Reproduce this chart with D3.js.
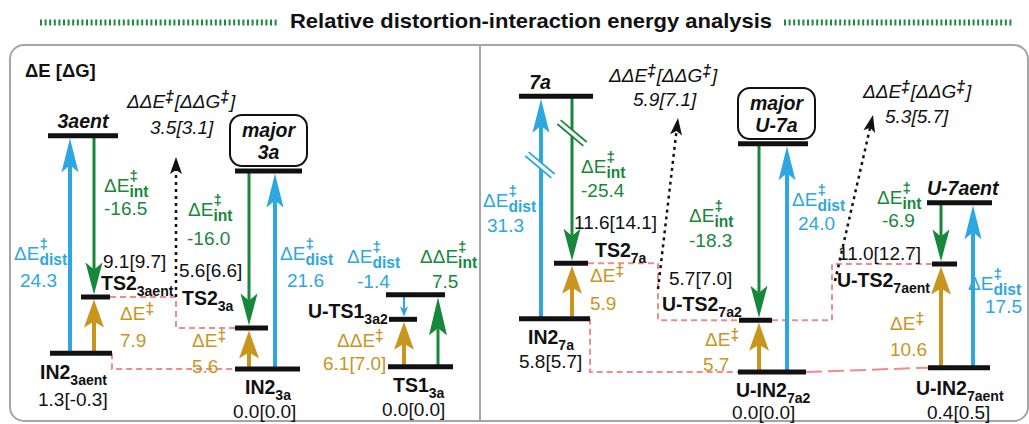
<!DOCTYPE html>
<html>
<head>
<meta charset="utf-8">
<script src="https://cdn.jsdelivr.net/npm/d3@7"></script>
<style>
  body { margin: 0; background: #fff; }
  svg { display: block; font-family: 'Liberation Sans', Arial, Helvetica, sans-serif; }
</style>
</head>
<body>
<svg id="chart" width="1029" height="424"></svg>
<script>
// ---------- data ----------
const title = 'Relative distortion-interaction energy analysis';
const axisNote = 'ΔE [ΔG]';

// energy levels; heights are the schematic heights of the drawing (kcal/mol-like units)
const levelIds = ['IN2_3aent', 'TS2_3aent', '3aent', 'IN2_3a', 'TS2_3a', '3a', 'TS1_3a', 'UTS1_3a2', 'TS1_ref',
  'IN2_7a', 'TS2_7a', '7a', 'UIN2_7a2', 'UTS2_7a2', 'U7a', 'UTS2_7aent', 'U7aent', 'UIN2_7aent'];
const levelLabels = ['IN2_{3aent}', 'TS2_{3aent}', '3aent', 'IN2_{3a}', 'TS2_{3a}', '3a', 'TS1_{3a}', 'U-TS1_{3a2}', '',
  'IN2_{7a}', 'TS2_{7a}', '7a', 'U-IN2_{7a2}', 'U-TS2_{7a2}', 'U-7a', 'U-TS2_{7aent}', 'U-7aent', 'U-IN2_{7aent}'];
const levelEnergies = ['1.3[-0.3]', '9.1[9.7]', '', '0.0[0.0]', '5.6[6.6]', '', '0.0[0.0]', '', '',
  '5.8[5.7]', '11.6[14.1]', '', '0.0[0.0]', '5.7[7.0]', '', '11.0[12.7]', '', '0.4[0.5]'];
const levelHeights = [2.2, 10.0, 32.4, 0, 5.7, 27.5, 0.3, 6.9, 10.3,
  7.4, 15.1, 38.3, 0, 7.2, 31.7, 15.0, 23.5, 0.6];
const levelPanel = [0, 0, 0, 0, 0, 0, 0, 0, 0, 1, 1, 1, 1, 1, 1, 1, 1, 1];
const majorLevels = ['3a', 'U7a'];

// distortion / interaction / barrier arrows
const arrowFrom = ['IN2_3aent', '3aent', 'IN2_3aent', 'IN2_3a', '3a', 'IN2_3a', 'TS1_ref', 'TS1_3a', 'TS1_3a',
  'IN2_7a', '7a', 'IN2_7a', 'UIN2_7a2', 'U7a', 'UIN2_7a2', 'UIN2_7aent', 'U7aent', 'UIN2_7aent'];
const arrowTo = ['3aent', 'TS2_3aent', 'TS2_3aent', '3a', 'TS2_3a', 'TS2_3a', 'UTS1_3a2', 'UTS1_3a2', 'TS1_ref',
  '7a', 'TS2_7a', 'TS2_7a', 'U7a', 'UTS2_7a2', 'UTS2_7a2', 'U7aent', 'UTS2_7aent', 'UTS2_7aent'];
const arrowKind = ['dist', 'int', 'bar', 'dist', 'int', 'bar', 'dist', 'bar', 'int',
  'dist', 'int', 'bar', 'dist', 'int', 'bar', 'dist', 'int', 'bar'];
const arrowNames = ['ΔE{‡|dist}', 'ΔE{‡|int}', 'ΔE^{‡}', 'ΔE{‡|dist}', 'ΔE{‡|int}', 'ΔE^{‡}', 'ΔE{‡|dist}', 'ΔΔE^{‡}', 'ΔΔE{‡|int}',
  'ΔE{‡|dist}', 'ΔE{‡|int}', 'ΔE^{‡}', 'ΔE{‡|dist}', 'ΔE{‡|int}', 'ΔE^{‡}', 'ΔE{‡|dist}', 'ΔE{‡|int}', 'ΔE^{‡}'];
const arrowValues = ['24.3', '-16.5', '7.9', '21.6', '-16.0', '5.6', '-1.4', '6.1[7.0]', '7.5',
  '31.3', '-25.4', '5.9', '24.0', '-18.3', '5.7', '17.5', '-6.9', '10.6'];

// pink dashed links between levels
const linkFrom = ['TS2_3aent', 'IN2_3aent', 'TS2_7a', 'UTS2_7a2', 'IN2_7a', 'UIN2_7a2'];
const linkTo = ['TS2_3a', 'IN2_3a', 'UTS2_7a2', 'UTS2_7aent', 'UIN2_7a2', 'UIN2_7aent'];

// ΔΔE‡[ΔΔG‡] call-outs
const deltaName = 'ΔΔE^{‡}[ΔΔG^{‡}]';
const deltaValues = ['3.5[3.1]', '5.9[7.1]', '5.3[5.7]'];

// ---------- layout ----------
const ink = '#111';
const colors = { dist: '#2ca7df', int: '#17873b', bar: '#c8961d', link: '#f08a8c', frame: '#a5a5a5', title: '#1d8a3e' };

const levelSpan = {
  IN2_3aent: [50, 112], TS2_3aent: [81, 110], '3aent': [48, 118], IN2_3a: [235, 300], TS2_3a: [235, 268],
  '3a': [235, 302], TS1_3a: [388, 453], UTS1_3a2: [389, 417], TS1_ref: [386, 445],
  IN2_7a: [519, 590], TS2_7a: [554, 588], '7a': [519, 593], UIN2_7a2: [738, 806], UTS2_7a2: [739, 772],
  U7a: [738, 808], UTS2_7aent: [932, 957], U7aent: [927, 992], UIN2_7aent: [928, 990]
};
const levelLabelAt = {
  IN2_3aent: [40, 379, 'start'], TS2_3aent: [101, 290, 'start'], '3aent': [83, 128, 'middle'],
  IN2_3a: [245, 394, 'start'], TS2_3a: [182, 305, 'start'], TS1_3a: [393, 392, 'start'],
  UTS1_3a2: [308, 318, 'start'], IN2_7a: [528, 344, 'start'], TS2_7a: [595, 257, 'start'],
  '7a': [540, 89, 'middle'], UIN2_7a2: [736, 397, 'start'], UTS2_7a2: [662, 311, 'start'],
  UTS2_7aent: [837, 287, 'start'], U7aent: [927, 195, 'start'], UIN2_7aent: [916, 395, 'start']
};
const levelValueAt = {
  IN2_3aent: [38, 406], TS2_3aent: [103, 268], IN2_3a: [233, 418], TS2_3a: [179, 277], TS1_3a: [382, 416],
  IN2_7a: [519, 368], TS2_7a: [574, 229], UIN2_7a2: [732, 419], UTS2_7a2: [669, 285],
  UTS2_7aent: [838, 260], UIN2_7aent: [927, 419]
};
const majorBox = { '3a': [230, 115, 77, 51], U7a: [738, 88, 77, 51] };

const arrowX = [70, 94, 94, 275, 249, 249, 404, 404, 438, 541, 572, 572, 787, 759, 759, 973, 941, 941];
const arrowNameAt = [[14, 260], [104, 192], [120, 320], [280, 260], [188, 216], [192, 347], [347, 263], [337, 347], [420, 263],
  [483, 207], [581, 173], [590, 282], [792, 206], [689, 222], [705, 346], [968, 290], [877, 204], [890, 330]];
const arrowValueAt = [[20, 287], [104, 215], [120, 347], [287, 287], [187, 245], [192, 373], [357, 288], [323, 370], [432, 288],
  [487, 232], [581, 197], [590, 310], [798, 230], [689, 247], [703, 371], [985, 313], [882, 227], [890, 356]];
const arrowStyle = {
  dist: { w: 4, L: 34, W: 8.5, n: 7 },
  int: { w: 3, L: 32, W: 8.5, n: 7 },
  bar: { w: 4, L: 28, W: 10, n: 6 }
};
const arrowOverride = { 6: { w: 2, L: 10, W: 4, n: 2 }, 8: { L: 38, W: 9 } };
const breakAt = [[540, 165, 'dist'], [572, 133, 'int']];

const linkElbow = [176, 112, 658, 832, 590, null];
const deltaArrow = [[176, 297, 176, 157], [658, 289, 678, 118], [835, 281, 873, 115]];
const deltaNameAt = [[127, 108], [609, 82], [863, 98]];
const deltaValueAt = [[150, 134], [633, 106], [885, 123]];

const LEVEL_T = 5;
const yScale = [
  d3.scaleLinear().domain([0, 10]).range([369, 297]),
  d3.scaleLinear().domain([0, 10]).range([372, 300])
];

const svg = d3.select('#chart');
const level = {};
levelIds.forEach((id, i) => {
  level[id] = { x0: levelSpan[id][0], x1: levelSpan[id][1], y: yScale[levelPanel[i]](levelHeights[i]) };
});

// ---------- rich text: ^{sup}, _{sub}, {sup|sub} stacked ----------
const tokenRe = /(\^\{[^}]*\}|_\{[^}]*\}|\{[^}|]*\|[^}]*\})/;
function rich(parent, markup, x, y, o = {}) {
  const size = o.size || 19;
  const g = parent.append('g')
    .attr('fill', o.color || ink)
    .attr('font-size', size)
    .attr('font-weight', o.bold ? 'bold' : 'normal')
    .attr('font-style', o.italic ? 'italic' : 'normal');
  let cx = 0;
  const put = (txt, dy, fs, bold) => {
    const t = g.append('text').attr('x', cx).attr('y', dy).text(txt);
    if (fs) t.attr('font-size', fs);
    if (bold) t.attr('font-weight', 'bold');
    return t.node().getComputedTextLength();
  };
  markup.split(tokenRe).filter(s => s).forEach(tok => {
    let m;
    if ((m = tok.match(/^\^\{(.*)\}$/))) cx += put(m[1], -size * 0.3, size * 0.82, true) + 1;
    else if ((m = tok.match(/^_\{(.*)\}$/))) cx += put(m[1], size * 0.3, size * 0.72);
    else if ((m = tok.match(/^\{(.*)\|(.*)\}$/))) {
      const w1 = put(m[1], -size * 0.6, size * 0.8, true);
      const w2 = put(m[2], size * 0.24, size * 0.82, true);
      cx += Math.max(w1, w2);
    } else cx += put(tok, 0);
  });
  const shift = o.anchor === 'middle' ? -cx / 2 : o.anchor === 'end' ? -cx : 0;
  g.attr('transform', `translate(${x + shift},${y})`);
  return g;
}

function head(parent, tx, ty, angle, s, color) {
  parent.append('path')
    .attr('d', `M0,0L${-s.L},${s.W}L${-s.L + s.n},0L${-s.L},${-s.W}Z`)
    .attr('transform', `translate(${tx},${ty}) rotate(${angle})`)
    .attr('fill', color);
}

// ---------- title ----------
svg.append('text')
  .attr('x', 531).attr('y', 28)
  .attr('text-anchor', 'middle')
  .attr('font-size', 20.5).attr('font-weight', 'bold').attr('fill', ink)
  .attr('textLength', 482).attr('lengthAdjust', 'spacingAndGlyphs')
  .text(title);
[[40, 277], [784, 1012]].forEach(([a, b]) => {
  svg.append('line')
    .attr('x1', a).attr('x2', b).attr('y1', 22.5).attr('y2', 22.5)
    .attr('stroke', colors.title).attr('stroke-width', 6)
    .attr('stroke-dasharray', '2,2.6');
});

// ---------- frame ----------
svg.append('rect')
  .attr('x', 10).attr('y', 45).attr('width', 1018).attr('height', 376)
  .attr('rx', 14)
  .attr('fill', 'none').attr('stroke', colors.frame).attr('stroke-width', 2);
svg.append('line')
  .attr('x1', 480).attr('x2', 480).attr('y1', 45).attr('y2', 421)
  .attr('stroke', colors.frame).attr('stroke-width', 2);

rich(svg, axisNote, 25, 77, { bold: true, size: 18.5 });

// ---------- pink links ----------
linkFrom.forEach((f, i) => {
  const a = level[f], b = level[linkTo[i]];
  const e = linkElbow[i];
  const d = e === null
    ? `M${a.x1},${a.y}L${b.x0},${b.y}`
    : `M${a.x1},${a.y}H${e}V${b.y}H${b.x0}`;
  svg.append('path')
    .attr('d', d)
    .attr('fill', 'none')
    .attr('stroke', colors.link).attr('stroke-width', 2)
    .attr('stroke-dasharray', e === null ? '16,6' : '6,4');
});

// ---------- ΔΔE‡ dotted arrows ----------
deltaArrow.forEach(([x1, y1, x2, y2], i) => {
  const ang = Math.atan2(y2 - y1, x2 - x1);
  const s = { L: 17, W: 6, n: 4 };
  svg.append('line')
    .attr('x1', x1).attr('y1', y1)
    .attr('x2', x2 - Math.cos(ang) * (s.L - s.n)).attr('y2', y2 - Math.sin(ang) * (s.L - s.n))
    .attr('stroke', ink).attr('stroke-width', 2.5)
    .attr('stroke-dasharray', '3,4');
  head(svg, x2, y2, ang * 180 / Math.PI, s, ink);
  rich(svg, deltaName, deltaNameAt[i][0], deltaNameAt[i][1], { italic: true, size: 19 });
  rich(svg, deltaValues[i], deltaValueAt[i][0], deltaValueAt[i][1], { italic: true, size: 19 });
});

// ---------- arrows ----------
arrowFrom.forEach((f, i) => {
  const kind = arrowKind[i];
  const s = Object.assign({}, arrowStyle[kind], arrowOverride[i] || {});
  const a = level[f], b = level[arrowTo[i]];
  const x = arrowX[i];
  const up = b.y < a.y;
  const tip = up ? b.y + LEVEL_T / 2 : b.y - LEVEL_T / 2;
  const neck = up ? tip + (s.L - s.n) : tip - (s.L - s.n);
  svg.append('line')
    .attr('x1', x).attr('x2', x).attr('y1', a.y).attr('y2', neck)
    .attr('stroke', colors[kind]).attr('stroke-width', s.w);
  head(svg, x, tip, up ? -90 : 90, s, colors[kind]);
  rich(svg, arrowNames[i], arrowNameAt[i][0], arrowNameAt[i][1], { color: colors[kind], size: 19 });
  rich(svg, arrowValues[i], arrowValueAt[i][0], arrowValueAt[i][1], { color: colors[kind], size: 19 });
});

// axis-break marks on the long 7a arrows
breakAt.forEach(([cx, cy, kind]) => {
  const ang = 40 * Math.PI / 180, len = 17, gap = 2.6;
  const dx = Math.cos(ang) * len, dy = Math.sin(ang) * len;
  const px = -Math.sin(ang) * gap, py = Math.cos(ang) * gap;
  svg.append('line')
    .attr('x1', cx - dx * 0.6).attr('y1', cy - dy * 0.6).attr('x2', cx + dx * 0.6).attr('y2', cy + dy * 0.6)
    .attr('stroke', '#fff').attr('stroke-width', 4);
  [-1, 1].forEach(k => {
    svg.append('line')
      .attr('x1', cx - dx + k * px).attr('y1', cy - dy + k * py)
      .attr('x2', cx + dx + k * px).attr('y2', cy + dy + k * py)
      .attr('stroke', colors[kind]).attr('stroke-width', 1.8);
  });
});

// ---------- levels ----------
levelIds.forEach((id, i) => {
  const l = level[id];
  svg.append('line')
    .attr('x1', l.x0).attr('x2', l.x1).attr('y1', l.y).attr('y2', l.y)
    .attr('stroke', ink).attr('stroke-width', LEVEL_T);
  if (majorLevels.includes(id)) {
    const [bx, by, bw, bh] = majorBox[id];
    svg.append('rect')
      .attr('x', bx).attr('y', by).attr('width', bw).attr('height', bh).attr('rx', 12)
      .attr('fill', '#fff').attr('stroke', ink).attr('stroke-width', 2);
    rich(svg, 'major', bx + bw / 2, by + 22, { bold: true, italic: true, anchor: 'middle', size: 19.5 });
    rich(svg, levelLabels[i], bx + bw / 2, by + 44, { bold: true, italic: true, anchor: 'middle', size: 19.5 });
    return;
  }
  const lab = levelLabelAt[id];
  if (lab && levelLabels[i]) {
    const italic = !levelLabels[i].includes('_');
    rich(svg, levelLabels[i], lab[0], lab[1], { bold: true, italic, anchor: lab[2], size: 19.5 });
  }
  const val = levelValueAt[id];
  if (val && levelEnergies[i]) rich(svg, levelEnergies[i], val[0], val[1], { size: 19 });
});
</script>
</body>
</html>
